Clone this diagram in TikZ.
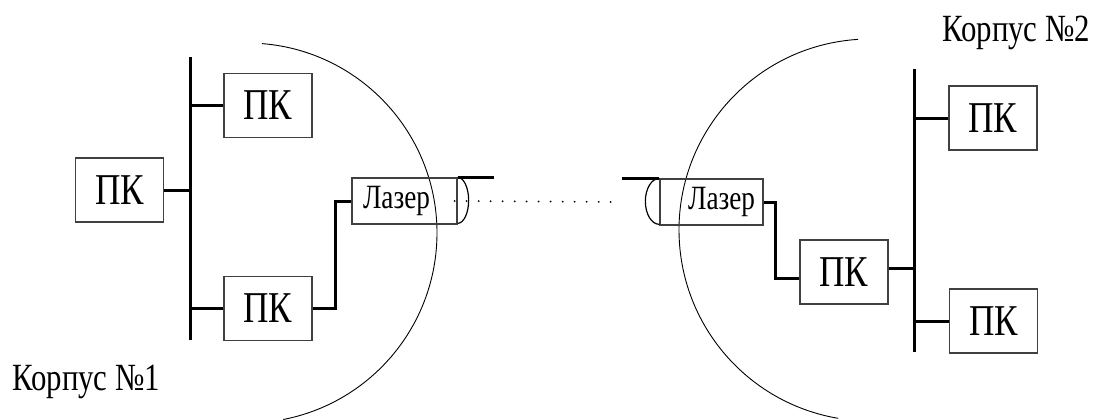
\documentclass[tikz,border=0pt]{standalone}
\usepackage{fontspec}
\setmainfont{Liberation Serif}[FakeStretch=0.8]
\usetikzlibrary{positioning}

\begin{document}
\begin{tikzpicture}[
    x=1pt, y=-1pt,
    pcbox/.style = {rectangle, draw=black!75, line width=1.3pt, minimum width=88pt, minimum height=64pt, inner sep=0pt, font=\fontsize{44}{46}\selectfont},
    laserbox/.style = {rectangle, draw=black!75, line width=1.3pt, minimum height=46pt, inner ysep=0pt, font=\fontsize{34}{36}\selectfont},
    capline/.style = {draw=black, line width=1.2pt},
    bus/.style = {draw=black, line width=3pt},
    link/.style = {draw=black, line width=3pt},
    hull/.style = {draw=black, line width=0.9pt},
    beam/.style = {draw=black, line width=2pt, line cap=round, dash pattern=on 0pt off 12pt},
    caption/.style = {anchor=base west, inner sep=0pt, font=\fontsize{38.5}{42}\selectfont}
]
\useasboundingbox (0,0) rectangle (1096,420);

\coordinate (hullL) at (247,233);
\coordinate (hullR) at (870,230);
\draw [hull] (hullL) ++(-85.5:190) arc[start angle=-85.5, end angle=79, radius=190];
\draw [hull] (hullR) ++(266.4:191) arc[start angle=266.4, end angle=99.6, radius=191];

\node (pcL) [pcbox] at (119.5,190) {ПК};
\node (pcLT) [pcbox] at (268,105.5) {ПК};
\node (pcLB) [pcbox] at (268,308.5) {ПК};
\node (laserL) [laserbox, text width=83pt, inner xsep=11pt, align=left] at (404.5,201) {Лазер};

\node (laserR) [laserbox, text width=87pt, inner xsep=8pt, align=right] at (711.5,202) {Лазер};
\node (pcRM) [pcbox] at (844,272) {ПК};
\node (pcRT) [pcbox] at (993,118) {ПК};
\node (pcRB) [pcbox] at (993.5,321) {ПК};

\node (bldg1) [caption] at (12,390) {Корпус №1};
\node (bldg2) [caption] at (942,42) {Корпус №2};

\coordinate (busLtop) at (190,57);
\coordinate (busLbot) at (190,340);
\coordinate (busRtop) at (914,69);
\coordinate (busRbot) at (914,352);
\draw [bus] (busLtop) -- (busLbot);
\draw [bus] (busRtop) -- (busRbot);

\draw [link] (pcL.east) -- (pcL.east -| busLtop);
\draw [link] (pcLT.west) -- (pcLT.west -| busLtop);
\draw [link] (pcLB.west) -- (pcLB.west -| busLtop);
\draw [link] (pcLB.east) -- ++(23,0) |- (laserL.west);

\draw [link] (laserR.east) -- ++(12,0) |- ([yshift=-6pt]pcRM.west);
\draw [link] ([yshift=4pt]pcRM.east) -- ([yshift=4pt]pcRM.east -| busRtop);
\draw [link] (pcRT.west) -- (pcRT.west -| busRtop);
\draw [link] (pcRB.west) -- (pcRB.west -| busRtop);

\draw [capline] (laserL.north east) arc[start angle=-90, end angle=90, x radius=11, y radius=23];
\draw [capline] (laserR.north west) arc[start angle=-90, end angle=-270, x radius=14, y radius=23];
\draw [link] (laserL.north east) -- ++(36,0);
\draw [link] (laserR.north west) -- ++(-37,0);

\draw [beam] ([xshift=-3pt]laserL.east) -- ([xshift=-38pt]laserR.west);

\end{tikzpicture}
\end{document}
